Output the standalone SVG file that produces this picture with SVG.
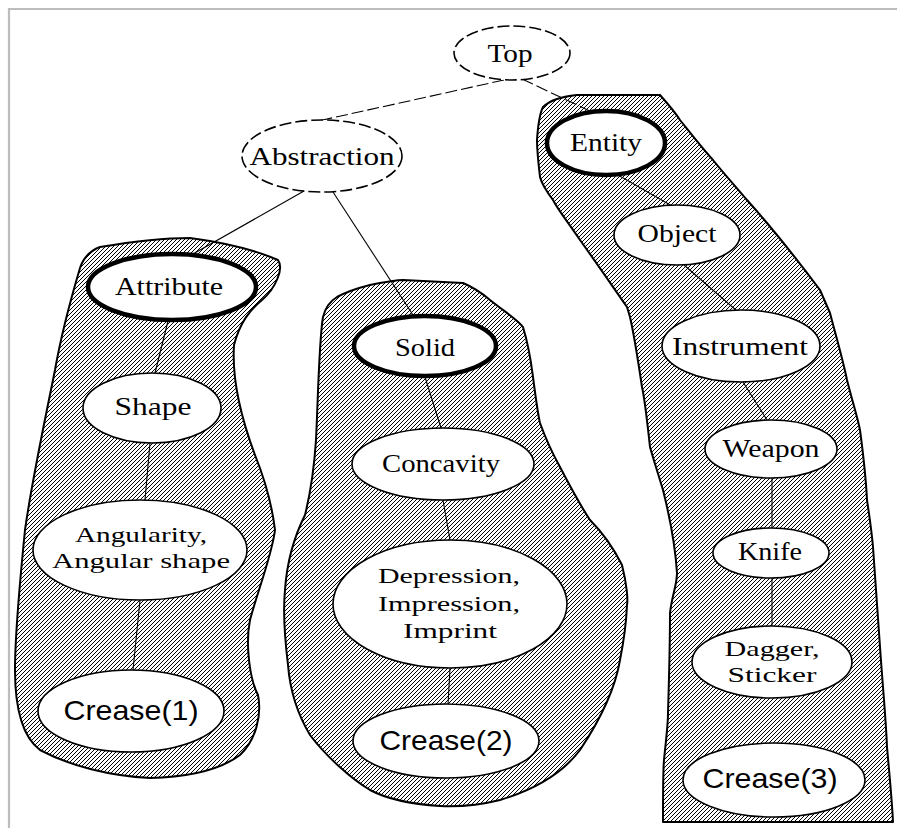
<svg xmlns="http://www.w3.org/2000/svg" width="897" height="828" viewBox="0 0 897 828">
<style>
.blob{fill:url(#hatch);stroke:#000;stroke-width:2;stroke-linejoin:round}
.node{fill:#fff;stroke:#000;stroke-width:1.6}
.dash{stroke-dasharray:12 4}
.bold{stroke-width:4.5}
.edge{stroke:#000;stroke-width:1.1;fill:none}
.t{font-family:"Liberation Serif","Times New Roman",serif;font-size:26px;fill:#000;text-anchor:middle}
.m{font-size:22px}
.s{font-family:"Liberation Sans",Arial,sans-serif;font-size:28px;fill:#000;text-anchor:middle}
.frame{stroke:#bdbdbd;stroke-width:2.2;fill:none}
</style>
<defs>
<pattern id="hatch" patternUnits="userSpaceOnUse" width="4" height="4">
<rect width="4" height="4" fill="#fff"/>
<path d="M-1,1 L1,-1 M0,4 L4,0 M3,5 L5,3" stroke="#000" stroke-width="1"/>
</pattern>
</defs>
<rect width="897" height="828" fill="#fff"/>
<path class="frame" d="M9,828 L9,9 L897,9"/>
<g id="regions">
<path id="region-left" class="blob" d="M80,268 C84,256 92,250 100,247 C130,242 165,238 190,238 C220,242 255,250 278,260 C284,268 276,288 262,300 C250,310 240,322 234,345 C232,375 240,415 255,455 C265,480 272,505 275,530 C272,555 258,590 250,620 C245,645 250,680 258,695 C262,715 256,740 240,755 C220,770 190,777 150,778 C110,776 70,766 40,750 C20,735 15,700 15,670 C15,640 20,580 25,530 C32,480 45,420 55,370 C62,330 72,295 80,268 Z"/>
<path id="region-middle" class="blob" d="M323,317 C326,305 332,300 337,297 C350,290 362,287 370,285 C385,282 395,280 403,280 L463,283 C475,288 483,294 490,300 C505,312 518,320 523,327 C530,350 532,370 533,377 C536,400 538,415 540,423 C548,445 555,458 560,467 C572,490 582,508 590,520 C600,530 612,545 622,565 C627,585 628,600 627,605 C626,630 622,650 620,660 C615,690 600,720 580,750 C565,770 540,788 500,800 C480,805 460,807 440,806 C410,804 385,798 370,790 C350,778 325,755 310,735 C298,715 290,690 288,665 C285,640 283,610 285,590 C287,560 295,535 305,515 C310,495 314,470 316,440 C318,400 319,340 323,317 Z"/>
<path id="region-right" class="blob" d="M543,107 C550,100 560,97 577,95 L660,95 C668,104 675,112 680,120 C692,135 702,148 713,160 C725,175 737,188 747,200 C765,220 790,250 820,290 L830,313 C837,340 843,360 847,380 C852,400 857,415 860,430 C864,460 866,480 867,500 C870,520 872,535 873,547 C876,590 878,620 880,647 C883,690 886,720 887,747 C889,770 892,800 893,822 L663,822 C663,790 663,770 664,760 C666,740 668,725 668,713 C669,680 670,640 670,613 C672,595 677,585 677,573 C675,540 668,510 663,490 C657,470 653,458 650,447 C647,420 645,400 642,387 C638,360 633,330 630,317 L627,307 C615,290 598,265 580,240 C568,222 558,210 553,200 C547,192 542,185 540,177 C538,160 537,150 537,140 C538,125 540,113 543,107 Z"/>
</g>
<g id="connectors">
<line class="edge dash" x1="504" y1="80" x2="318" y2="121"/>
<line class="edge dash" x1="522" y1="79" x2="592" y2="112"/>
<line class="edge" x1="304" y1="191" x2="193" y2="254"/>
<line class="edge" x1="333" y1="192" x2="413" y2="315"/>
<line class="edge" x1="168" y1="321" x2="155" y2="373"/>
<line class="edge" x1="150" y1="443" x2="145" y2="500"/>
<line class="edge" x1="140" y1="600" x2="133" y2="670"/>
<line class="edge" x1="425" y1="377" x2="441" y2="428"/>
<line class="edge" x1="443" y1="500" x2="450" y2="540"/>
<line class="edge" x1="450" y1="668" x2="448" y2="705"/>
<line class="edge" x1="618" y1="175" x2="672" y2="206"/>
<line class="edge" x1="684" y1="265" x2="737" y2="311"/>
<line class="edge" x1="743" y1="382" x2="767" y2="420"/>
<line class="edge" x1="772" y1="478" x2="772" y2="528"/>
<line class="edge" x1="772" y1="578" x2="772" y2="627"/>
</g>
<g id="node-top"><ellipse class="node dash" cx="512" cy="53" rx="58" ry="27"/><text class="t" x="510" y="62" textLength="45" lengthAdjust="spacingAndGlyphs">Top</text></g>
<g id="node-abstraction"><ellipse class="node dash" cx="322" cy="156" rx="80" ry="36"/><text class="t" x="322" y="165" textLength="145" lengthAdjust="spacingAndGlyphs">Abstraction</text></g>
<g id="node-entity"><ellipse class="node bold" cx="606" cy="143" rx="59" ry="32"/><text class="t" x="606" y="151" textLength="72" lengthAdjust="spacingAndGlyphs">Entity</text></g>
<g id="node-attribute"><ellipse class="node bold" cx="172" cy="287" rx="84" ry="33"/><text class="t" x="169" y="295" textLength="108" lengthAdjust="spacingAndGlyphs">Attribute</text></g>
<g id="node-shape"><ellipse class="node" cx="152" cy="408" rx="69" ry="35"/><text class="t" x="153" y="415" textLength="77" lengthAdjust="spacingAndGlyphs">Shape</text></g>
<g id="node-angularity"><ellipse class="node" cx="140" cy="550" rx="107" ry="50"/><text class="t m" x="141" y="542" textLength="132" lengthAdjust="spacingAndGlyphs">Angularity,</text><text class="t m" x="141" y="568" textLength="178" lengthAdjust="spacingAndGlyphs">Angular shape</text></g>
<g id="node-crease1"><ellipse class="node" cx="131" cy="711" rx="93" ry="41"/><text class="s" x="131" y="720" textLength="135" lengthAdjust="spacingAndGlyphs">Crease(1)</text></g>
<g id="node-solid"><ellipse class="node bold" cx="425" cy="346" rx="71" ry="30"/><text class="t" x="425" y="356" textLength="60" lengthAdjust="spacingAndGlyphs">Solid</text></g>
<g id="node-concavity"><ellipse class="node" cx="443" cy="464" rx="91" ry="36"/><text class="t" x="441" y="472" textLength="118" lengthAdjust="spacingAndGlyphs">Concavity</text></g>
<g id="node-depression"><ellipse class="node" cx="450" cy="604" rx="117" ry="64"/><text class="t m" x="449" y="583" textLength="142" lengthAdjust="spacingAndGlyphs">Depression,</text><text class="t m" x="449" y="611" textLength="142" lengthAdjust="spacingAndGlyphs">Impression,</text><text class="t m" x="450" y="638" textLength="94" lengthAdjust="spacingAndGlyphs">Imprint</text></g>
<g id="node-crease2"><ellipse class="node" cx="446" cy="741" rx="93" ry="37"/><text class="s" x="446" y="750" textLength="133" lengthAdjust="spacingAndGlyphs">Crease(2)</text></g>
<g id="node-object"><ellipse class="node" cx="677" cy="235" rx="63" ry="30"/><text class="t" x="677" y="242" textLength="79" lengthAdjust="spacingAndGlyphs">Object</text></g>
<g id="node-instrument"><ellipse class="node" cx="741" cy="346" rx="79" ry="36"/><text class="t" x="740" y="355" textLength="136" lengthAdjust="spacingAndGlyphs">Instrument</text></g>
<g id="node-weapon"><ellipse class="node" cx="771" cy="449" rx="66" ry="29"/><text class="t" x="771" y="457" textLength="97" lengthAdjust="spacingAndGlyphs">Weapon</text></g>
<g id="node-knife"><ellipse class="node" cx="771" cy="553" rx="58" ry="25"/><text class="t" x="770" y="560" textLength="64" lengthAdjust="spacingAndGlyphs">Knife</text></g>
<g id="node-dagger"><ellipse class="node" cx="772" cy="662" rx="80" ry="36"/><text class="t m" x="772" y="656" textLength="95" lengthAdjust="spacingAndGlyphs">Dagger,</text><text class="t m" x="772" y="682" textLength="89" lengthAdjust="spacingAndGlyphs">Sticker</text></g>
<g id="node-crease3"><ellipse class="node" cx="774" cy="780" rx="91" ry="37"/><text class="s" x="770" y="788" textLength="135" lengthAdjust="spacingAndGlyphs">Crease(3)</text></g>
</svg>
